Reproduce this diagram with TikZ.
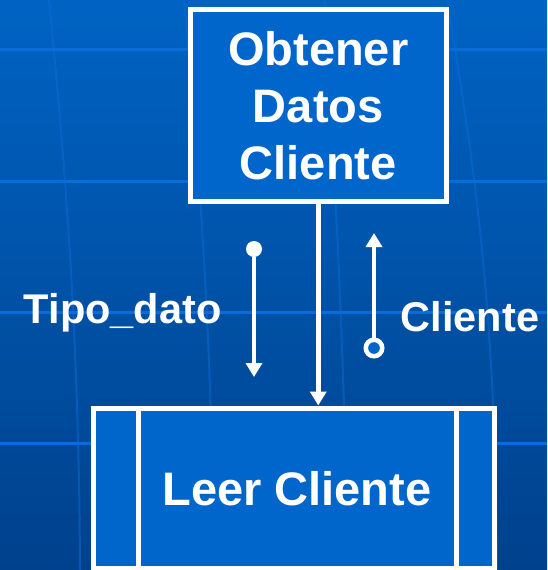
\documentclass[tikz,border=0pt]{standalone}
\usepackage{fontspec}
\setmainfont{Liberation Sans}
\usetikzlibrary{arrows.meta,calc}

\definecolor{boxblue}{HTML}{0066CC}
\definecolor{bgtop}{HTML}{0063C3}
\definecolor{bgmid}{HTML}{0053AD}
\definecolor{bgbot}{HTML}{00418C}
\definecolor{gridline}{HTML}{0A6CD8}

\begin{document}
\begin{tikzpicture}[x=1pt,y=-1pt,
  box/.style={draw=white, line width=5pt, fill=boxblue, text=white,
    inner sep=0pt, outer sep=0pt, font=\bfseries\fontsize{47}{57}\selectfont},
  divider/.style={draw=white, line width=5pt},
  flow/.style={draw=white, line width=4.5pt, -{Triangle[length=14pt,width=16pt]}},
  dot/.style={circle, fill=white, minimum size=16pt, inner sep=0pt, outer sep=0pt},
  ring/.style={circle, draw=white, line width=4.5pt, fill=boxblue,
    minimum size=16.5pt, inner sep=0pt, outer sep=0pt},
  lbl/.style={text=white, inner sep=0pt, font=\bfseries\fontsize{41.5}{49}\selectfont},
  hgrid/.style={draw=gridline, line width=3pt},
  vgrid/.style={draw=gridline, line width=2pt, opacity=0.5}]

  % background with its grid
  \useasboundingbox (0,0) rectangle (547,570);
  \shade[top color=bgtop, middle color=bgmid, bottom color=bgbot] (0,0) rectangle (547,570);
  \foreach \y in {49,181,312,443}
    \draw[hgrid] (0,\y) -- (547,\y);
  \draw[vgrid] (49,0) .. controls (64,150) and (79,330) .. (80,570);
  \draw[vgrid] (184,0) .. controls (198,150) and (212,330) .. (214,570);
  \draw[vgrid] (325,0) .. controls (333,150) and (344,330) .. (348,570);
  \draw[vgrid] (447,0) .. controls (472,150) and (496,300) .. (497,570);

  % processes
  \node[box, minimum width=256.5pt, minimum height=192pt, align=center]
    (obt) at (318.25,105.5) {Obtener\\Datos\\Cliente};
  \node[box, minimum width=401pt, minimum height=160.5pt]
    (leer) at (293.8,488.25) {\raisebox{-2.5pt}{\hspace{6pt}Leer Cliente}};
  \draw[divider] ($(leer.north west)+(45.2,0)$) -- ($(leer.south west)+(45.2,0)$);
  \draw[divider] ($(leer.north east)+(-38.3,0)$) -- ($(leer.south east)+(-38.3,0)$);

  % call
  \draw[flow, shorten >=2.5pt] (obt.south) -- (obt.south |- leer.north);

  % parameters
  \node[dot] (src1) at (254,249) {};
  \coordinate (dst1) at (254,377);
  \draw[flow] (src1) -- (dst1);
  \node[ring] (src2) at (374,348) {};
  \coordinate (dst2) at (374,233);
  \draw[flow] (src2) -- (dst2);

  \node[lbl, anchor=base] (tipo) at (122.7,323) {Tipo\_dato};
  \node[lbl, anchor=base] (cli) at (470,331.7) {Cliente};
\end{tikzpicture}
\end{document}
